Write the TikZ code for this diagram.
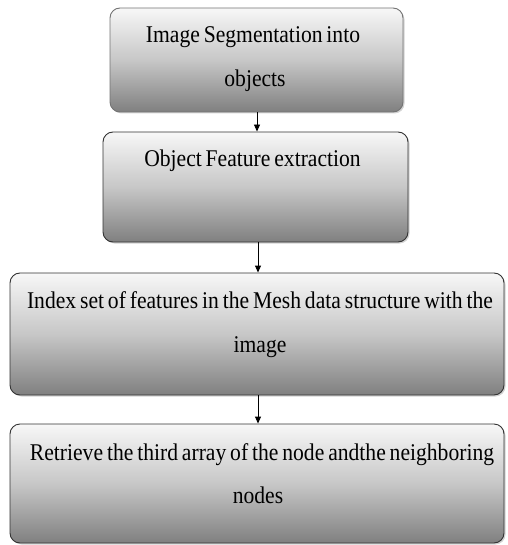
\documentclass[tikz,border=0pt]{standalone}
\usepackage{fontspec}
\setmainfont[FakeStretch=0.9,WordSpace=0.72]{Liberation Serif}
\usetikzlibrary{arrows.meta,shadows}
\begin{document}
\begin{tikzpicture}[x=1pt,y=1pt,
  box/.style={draw=black!80,line width=0.9pt,rounded corners=10pt,
    top color=black!3,bottom color=black!50,middle color=black!22,
    drop shadow={shadow xshift=1.5pt,shadow yshift=-1.5pt,opacity=0.35,fill=black!50},
    inner sep=0pt},
  txt/.style={anchor=base,inner sep=0pt,font=\fontsize{24}{28}\selectfont},
  arr/.style={-{Triangle[length=7pt,width=6pt]},line width=0.9pt,black}]
\useasboundingbox (0,0) rectangle (507,-545);
\node[box,draw=black!55,minimum width=293pt,minimum height=104pt] (b1) at (256.5,-60) {};
\node[box,minimum width=305pt,minimum height=110pt] (b2) at (255.5,-187) {};
\node[box,minimum width=494pt,minimum height=122pt] (b3) at (257,-334) {};
\node[box,minimum width=494pt,minimum height=119pt] (b4) at (257,-483.5) {};
\node[txt] (t1a) at (253,-43) {Image Segmentation into};
\node[txt] (t1b) at (255,-87) {objects};
\node[txt] (t2) at (252.5,-167) {Object Feature extraction};
\node[txt] (t3a) at (260,-308) {Index set of features in the Mesh data structure with the};
\node[txt] (t3b) at (260,-352) {image};
\node[txt] (t4a) at (262,-460) {Retrieve the third array of the node andthe neighboring};
\node[txt] (t4b) at (258,-503) {nodes};
\draw[arr] (b1.south -| 257,0) -- (b2.north -| 257,0);
\draw[arr] (b2.south -| 258,0) -- (b3.north -| 258,0);
\draw[arr] (b3.south -| 258,0) -- (b4.north -| 258,0);
\end{tikzpicture}
\end{document}
